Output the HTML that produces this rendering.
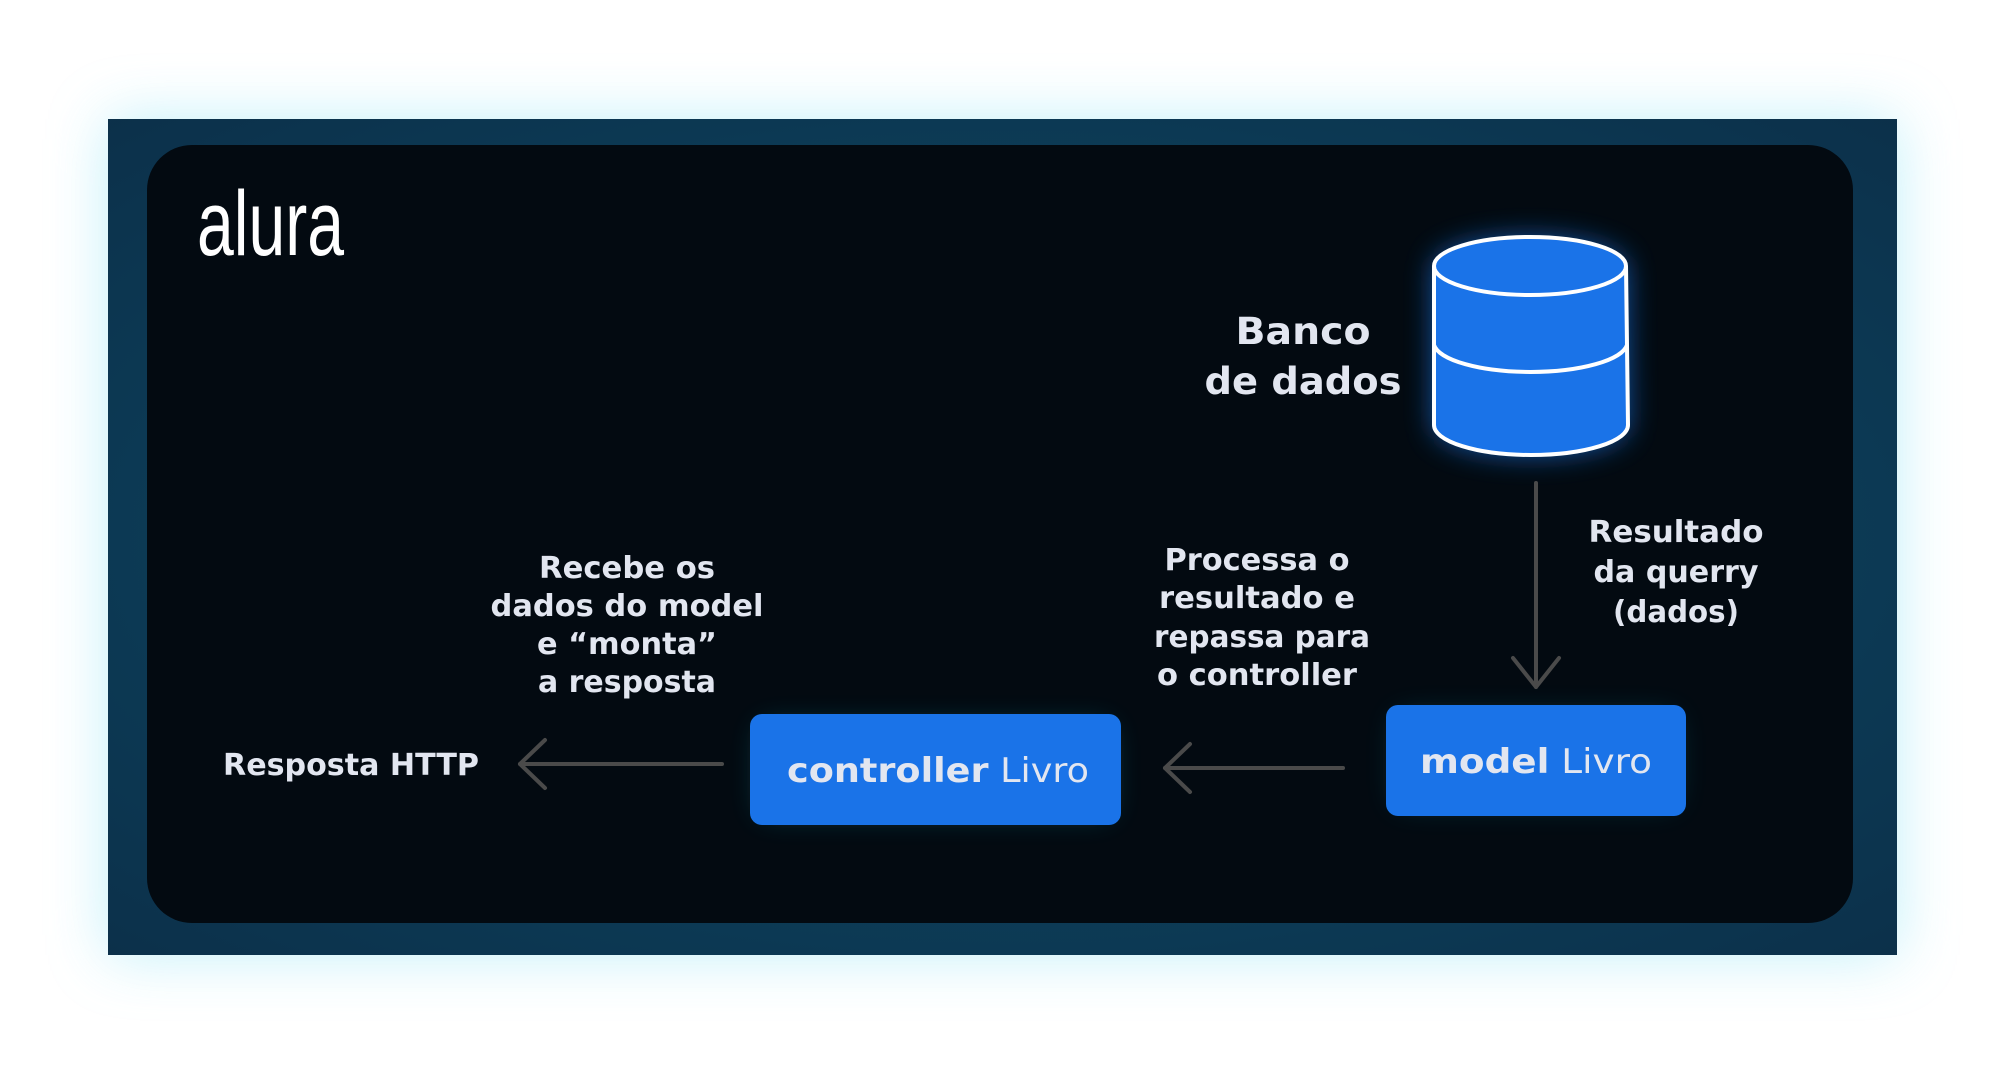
<!DOCTYPE html>
<html><head><meta charset="utf-8"><style>
html,body{margin:0;padding:0;background:#fff;width:1999px;height:1070px;overflow:hidden}
</style></head><body>
<svg width="1999" height="1070" viewBox="0 0 1999 1070" xmlns="http://www.w3.org/2000/svg">
<defs>
<filter id="outerglow" x="-20%" y="-30%" width="140%" height="160%"><feGaussianBlur stdDeviation="30"/></filter>
<filter id="glow" x="-50%" y="-50%" width="200%" height="200%"><feGaussianBlur stdDeviation="14"/></filter>
<radialGradient id="frame" cx="50%" cy="50%" r="70%">
<stop offset="0" stop-color="#061a2a"/><stop offset="0.6" stop-color="#0c3a55"/><stop offset="1" stop-color="#0a2740"/>
</radialGradient>
</defs>
<rect x="108" y="119" width="1789" height="836" fill="#a8eaf8" opacity="0.7" filter="url(#outerglow)"/>
<rect x="108" y="119" width="1789" height="836" fill="#0e3f5a"/>
<rect x="108" y="119" width="1789" height="836" fill="url(#frame)" opacity="0.6"/>
<rect x="147" y="145" width="1706" height="778" rx="45" fill="#030a11"/>
<!-- glows -->
<rect x="760" y="725" width="351" height="90" rx="12" fill="#1a8a9a" opacity="0.45" filter="url(#glow)"/>
<rect x="1396" y="715" width="280" height="90" rx="12" fill="#1a8a9a" opacity="0.35" filter="url(#glow)"/>
<path d="M1434 268 L1434 425 A97 30 0 0 0 1628 425 L1626 268 A96 30 0 0 0 1434 268Z" fill="#1e7cf0" opacity="0.7" filter="url(#glow)"/>
<!-- logo -->
<text x="197" y="255" font-family="Liberation Sans, sans-serif" font-size="92" fill="#fff" textLength="147" lengthAdjust="spacingAndGlyphs">alura</text>
<!-- cylinder -->
<path d="M1434 266 L1434 425 A97 30 0 0 0 1628 425 L1626 266" fill="#1a73e8" stroke="#fff" stroke-width="4"/>
<ellipse cx="1530" cy="266" rx="96" ry="29" fill="#1a73e8" stroke="#fff" stroke-width="4"/>
<path d="M1434 345 A97 30 0 0 0 1627 345" fill="none" stroke="#fff" stroke-width="4"/>
<g font-family="DejaVu Sans, Liberation Sans, sans-serif" font-weight="bold" fill="#e2e6f0" text-anchor="middle">
<text x="1303" y="344" font-size="37" textLength="135" lengthAdjust="spacingAndGlyphs">Banco</text>
<text x="1303" y="394" font-size="37" textLength="197" lengthAdjust="spacingAndGlyphs">de dados</text>
<text x="1676" y="542" font-size="30" textLength="175" lengthAdjust="spacingAndGlyphs">Resultado</text>
<text x="1676" y="582" font-size="30" textLength="165" lengthAdjust="spacingAndGlyphs">da querry</text>
<text x="1676" y="622" font-size="30" textLength="126" lengthAdjust="spacingAndGlyphs">(dados)</text>
<text x="1257" y="570" font-size="30" textLength="185" lengthAdjust="spacingAndGlyphs">Processa o</text>
<text x="1257" y="608" font-size="30" textLength="196" lengthAdjust="spacingAndGlyphs">resultado e</text>
<text x="1262" y="647" font-size="30" textLength="216" lengthAdjust="spacingAndGlyphs">repassa para</text>
<text x="1257" y="685" font-size="30" textLength="200" lengthAdjust="spacingAndGlyphs">o controller</text>
<text x="627" y="578" font-size="30" textLength="176" lengthAdjust="spacingAndGlyphs">Recebe os</text>
<text x="627" y="616" font-size="30" textLength="273" lengthAdjust="spacingAndGlyphs">dados do model</text>
<text x="627" y="654" font-size="30" textLength="180" lengthAdjust="spacingAndGlyphs">e “monta”</text>
<text x="627" y="692" font-size="30" textLength="178" lengthAdjust="spacingAndGlyphs">a resposta</text>
<text x="351" y="775" font-size="30" textLength="256" lengthAdjust="spacingAndGlyphs">Resposta HTTP</text>
</g>
<!-- arrows -->
<g stroke="#4a4a4a" stroke-width="4" fill="none" stroke-linecap="round" stroke-linejoin="round">
<line x1="1536" y1="483" x2="1536" y2="687"/>
<polyline points="1513,658 1536,687 1559,658"/>
<line x1="1343" y1="768" x2="1165" y2="768"/>
<polyline points="1190,744 1165,768 1190,792"/>
<line x1="722" y1="764" x2="520" y2="764"/>
<polyline points="545,740 520,764 545,788"/>
</g>
<!-- boxes -->
<rect x="1386" y="705" width="300" height="111" rx="12" fill="#1a73e8"/>
<rect x="750" y="714" width="371" height="111" rx="12" fill="#1a73e8"/>
<text x="1536" y="773" text-anchor="middle" font-family="DejaVu Sans, sans-serif" font-size="34" fill="#e2e6f0" textLength="232" lengthAdjust="spacingAndGlyphs"><tspan font-weight="bold">model</tspan> Livro</text>
<text x="938" y="782" text-anchor="middle" font-family="DejaVu Sans, sans-serif" font-size="34" fill="#e2e6f0" textLength="302" lengthAdjust="spacingAndGlyphs"><tspan font-weight="bold">controller</tspan> Livro</text>
</svg>
</body></html>
